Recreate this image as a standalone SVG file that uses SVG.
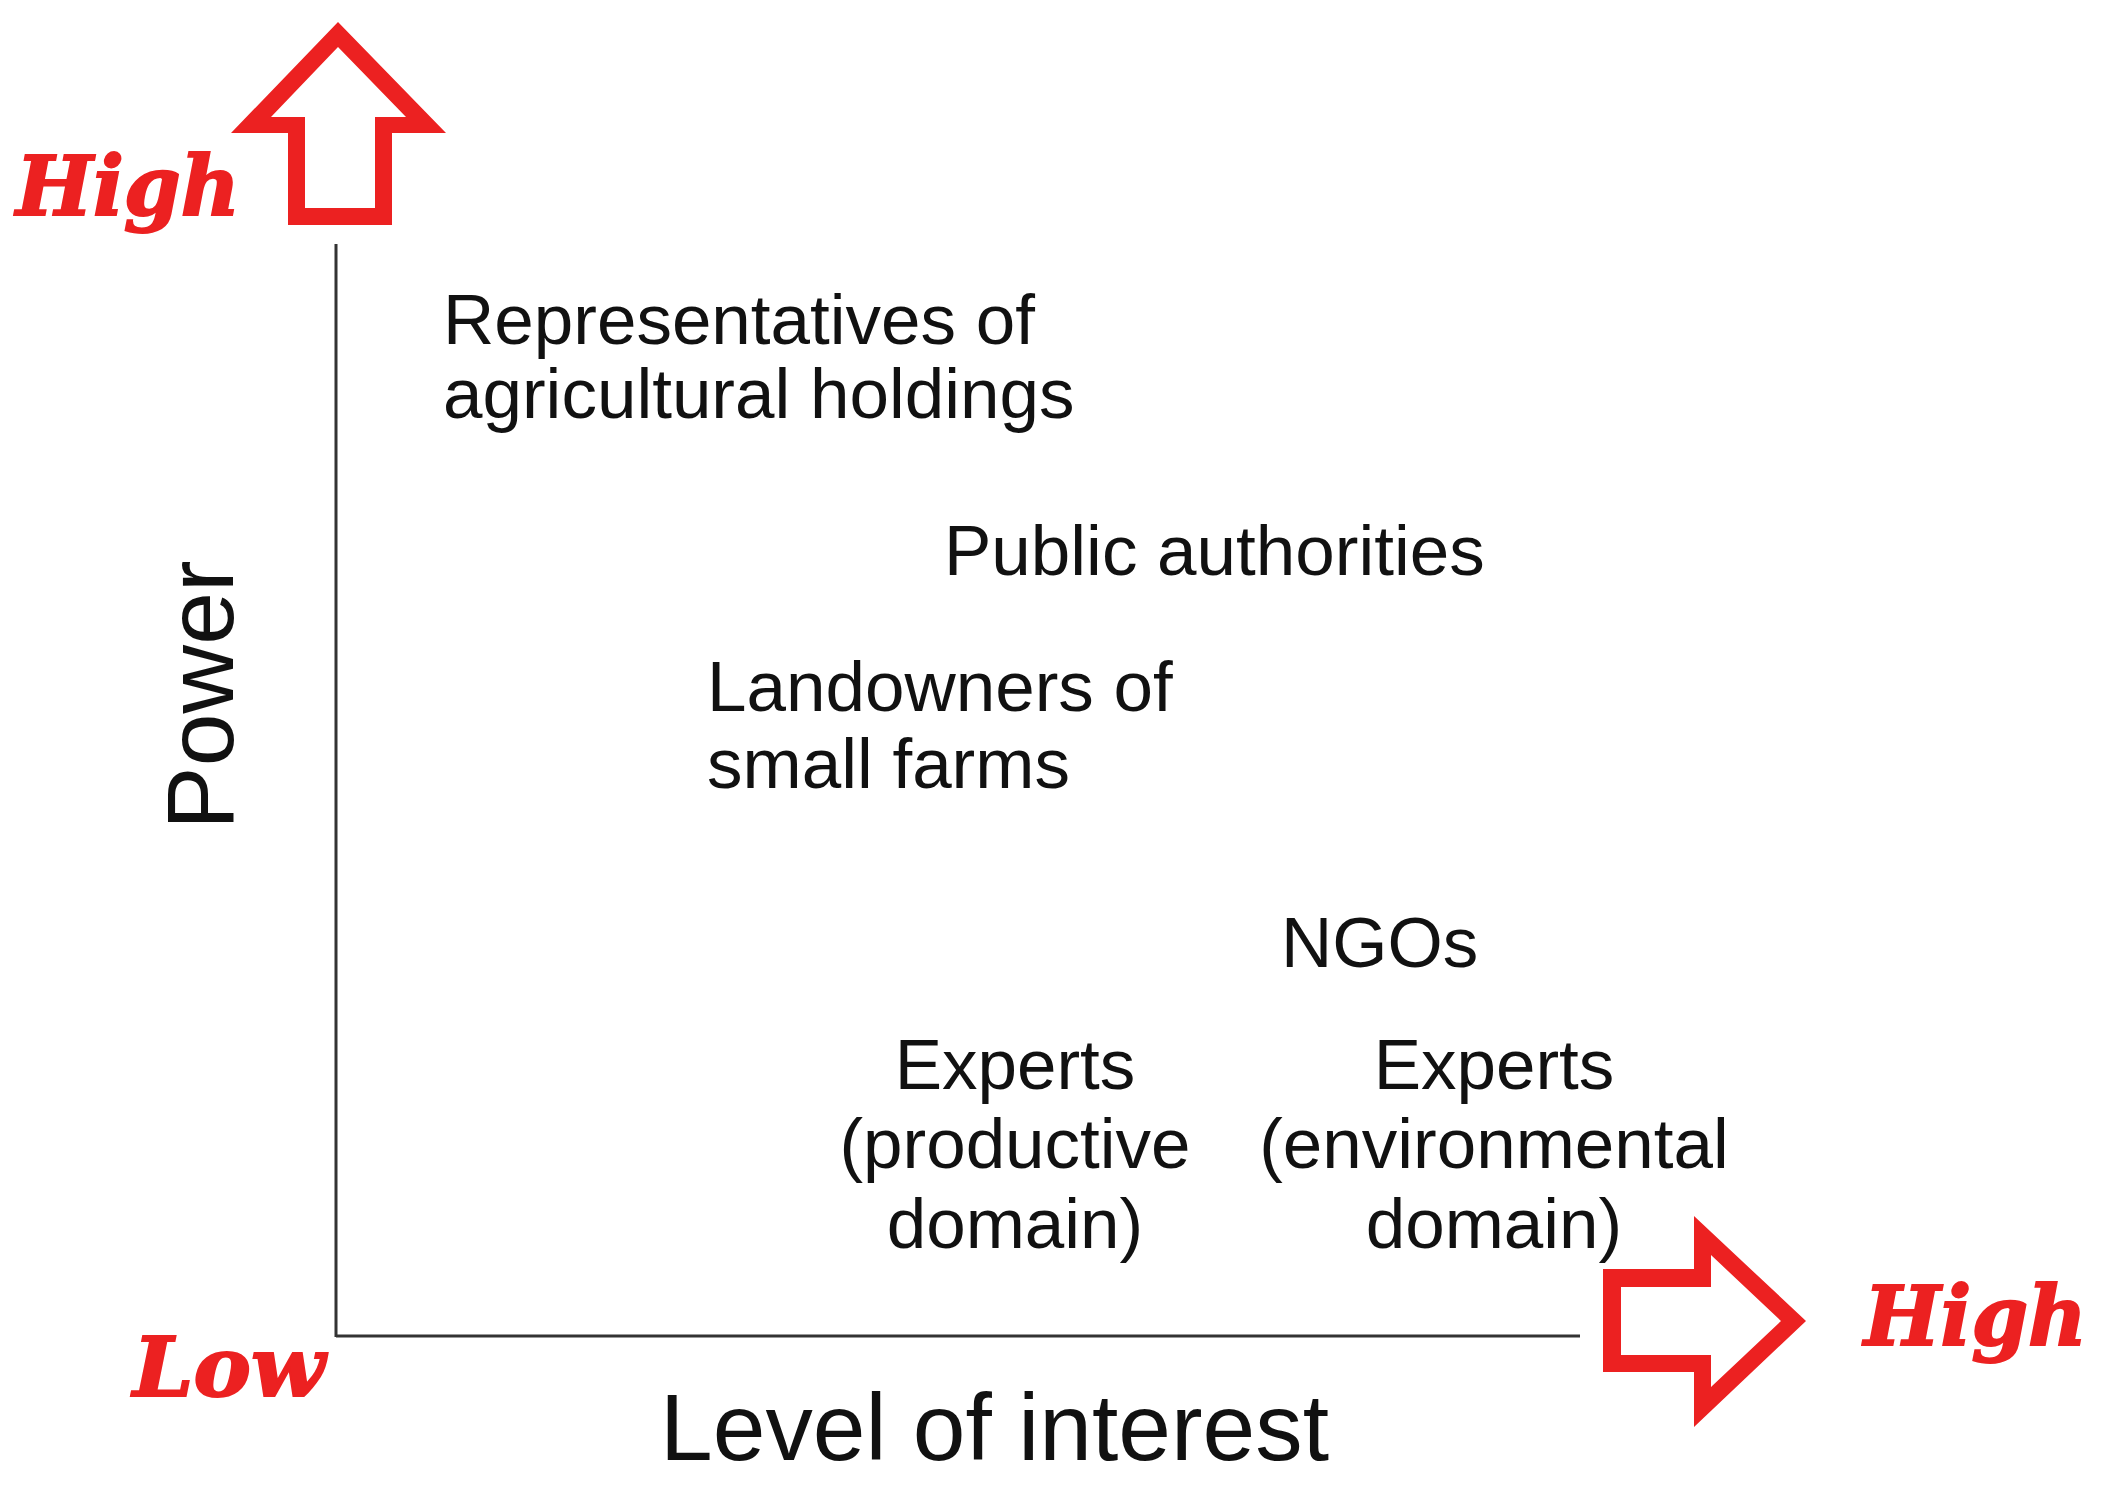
<svg xmlns="http://www.w3.org/2000/svg" width="2126" height="1492" viewBox="0 0 2126 1492">
  <style>
    .lbl { font-family: "Liberation Sans", Arial, sans-serif; font-size: 71px; fill: #111111; }
    .ax { font-family: "Liberation Sans", Arial, sans-serif; font-size: 95px; fill: #111111; }
    .red { font-family: "DejaVu Serif", "Liberation Serif", serif; font-weight: bold; font-style: italic; font-size: 82px; fill: #ec2121; stroke: #ec2121; stroke-width: 2; }
    .arrow { fill: #ec2121; fill-rule: evenodd; }
    .axis { stroke: #333333; stroke-width: 3; fill: none; }
  </style>
  <rect width="2126" height="1492" fill="#ffffff"/>

  <g id="connectors">
    <line class="axis" x1="336" y1="244" x2="336" y2="1337"/>
    <line class="axis" x1="336" y1="1336" x2="1580" y2="1336"/>
  </g>

  <g id="arrow-up">
    <path class="arrow" d="M338,22 L446,133 L392,133 L392,225 L288,225 L288,133 L231,133 Z M338,47 L406,117 L375,117 L375,208 L305,208 L305,117 L271,117 Z"/>
  </g>
  <g id="arrow-right">
    <path class="arrow" d="M1806,1321 L1694,1216 L1694,1269 L1603,1269 L1603,1372 L1694,1372 L1694,1427 Z M1781,1321 L1711,1255 L1711,1287 L1621,1287 L1621,1355 L1711,1355 L1711,1387 Z"/>
  </g>

  <g id="high-power"><text class="red" x="16" y="215" textLength="224" lengthAdjust="spacingAndGlyphs">High</text></g>
  <g id="low"><text class="red" x="133" y="1396" textLength="192" lengthAdjust="spacingAndGlyphs">Low</text></g>
  <g id="high-interest"><text class="red" x="1864" y="1345" textLength="223" lengthAdjust="spacingAndGlyphs">High</text></g>

  <g id="axis-power"><text class="ax" text-anchor="middle" transform="translate(233,695) rotate(-90)">Power</text></g>
  <g id="axis-interest"><text class="ax" x="660" y="1460" textLength="669" lengthAdjust="spacingAndGlyphs">Level of interest</text></g>

  <g id="representatives">
    <text class="lbl" x="443" y="344">Representatives of</text>
    <text class="lbl" x="443" y="418">agricultural holdings</text>
  </g>
  <g id="public-authorities">
    <text class="lbl" x="944" y="575">Public authorities</text>
  </g>
  <g id="landowners">
    <text class="lbl" x="707" y="711">Landowners of</text>
    <text class="lbl" x="707" y="788">small farms</text>
  </g>
  <g id="ngos">
    <text class="lbl" x="1281" y="967">NGOs</text>
  </g>
  <g id="experts-productive">
    <text class="lbl" text-anchor="middle" x="1015" y="1089">Experts</text>
    <text class="lbl" text-anchor="middle" x="1015" y="1168">(productive</text>
    <text class="lbl" text-anchor="middle" x="1015" y="1248">domain)</text>
  </g>
  <g id="experts-environmental">
    <text class="lbl" text-anchor="middle" x="1494" y="1089">Experts</text>
    <text class="lbl" text-anchor="middle" x="1494" y="1168">(environmental</text>
    <text class="lbl" text-anchor="middle" x="1494" y="1248">domain)</text>
  </g>
</svg>
